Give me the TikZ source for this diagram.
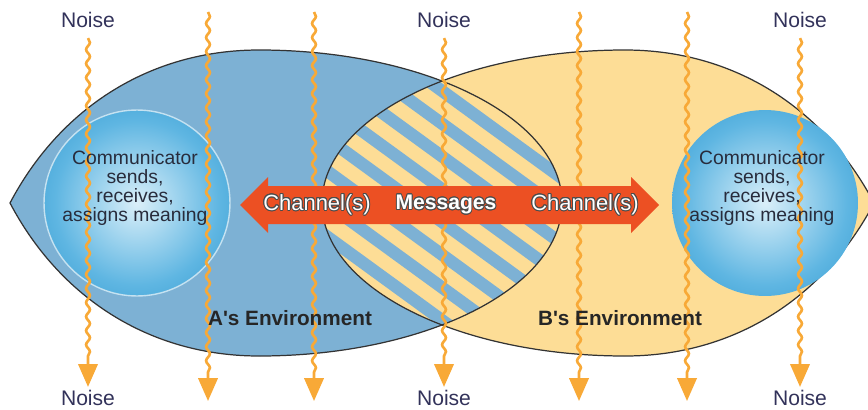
\documentclass[tikz,border=0pt]{standalone}
\usepackage{fontspec}
\usepackage{contour}
\usepackage{tikz}
\usetikzlibrary{decorations.pathmorphing,arrows.meta}
\newfontfamily\diagfont{Liberation Sans}
\contourlength{0.5pt}
\contournumber{16}
\definecolor{envblue}{RGB}{125,177,212}
\definecolor{envyellow}{RGB}{253,221,150}
\definecolor{noiseorange}{RGB}{248,169,55}
\definecolor{noiseink}{RGB}{50,50,90}
\definecolor{chanred}{RGB}{236,80,35}
\definecolor{commdark}{RGB}{25,138,198}
\definecolor{commmid}{RGB}{95,182,226}
\definecolor{commlight}{RGB}{218,239,249}
\definecolor{commink}{RGB}{40,44,60}
\pgfdeclareradialshading{commball}{\pgfpoint{0bp}{0bp}}{color(0bp)=(commlight); color(22bp)=(commmid); color(44bp)=(commdark); color(50bp)=(commdark)}
\tikzset{
	envline/.style={draw=black!80, line width=0.7pt}, % outline of both environments
	stripe/.style={draw=envblue, line width=7pt}, % blue bands in the shared part
	commball/.style={circle, minimum size=3.72cm, inner sep=0pt, shading=commball}, % communicator
	noise/.style={draw=noiseorange, line width=1.5pt, decorate,
		decoration={snake, amplitude=1.1pt, segment length=8pt, post length=14pt},
		-{Triangle[width=11pt,length=13pt]}}, % wavy noise line
	noiselabel/.style={font={\diagfont\fontsize{12pt}{12pt}\selectfont}, text=noiseink, inner sep=0.5pt},
	commtext/.style={font={\diagfont\fontsize{11pt}{11pt}\selectfont}, text=commink, align=center},
	chantext/.style={font={\diagfont\fontsize{12.5pt}{12.5pt}\selectfont}, text=white},
	msgtext/.style={font={\diagfont\bfseries\fontsize{12pt}{12pt}\selectfont}, text=white},
	envlabel/.style={font={\diagfont\bfseries\fontsize{11.8pt}{11.8pt}\selectfont}, text=black!85},
}
\def\envApath{(10,203) .. controls (60,108) and (150,50) .. (259,50) arc[start angle=-90, end angle=90, x radius=303, y radius=153] .. controls (150,356) and (60,298) .. (10,203) -- cycle}
\def\envBpath{(874,203) .. controls (824,108) and (734,50) .. (625,50) arc[start angle=-90, end angle=-270, x radius=303, y radius=153] .. controls (734,356) and (824,298) .. (874,203) -- cycle}
\begin{document}
\begin{tikzpicture}[x=0.02cm,y=-0.02cm]
	\useasboundingbox (0,0) rectangle (868,409);
	% the two environments
	\fill[envblue] \envApath;
	\fill[envyellow] \envBpath;
	\begin{scope}
		\clip \envApath;
		\clip \envBpath;
		\fill[envyellow] (300,60) rectangle (600,340);
		\foreach \k in {-10,...,3}
			\draw[stripe] ({596+45*\k-206},53) -- ({596+45*\k+206},353);
	\end{scope}
	\draw[envline] \envApath;
	\draw[envline] \envBpath;
	
	% communicators
	\node[commball, draw=white!75!commdark, line width=0.8pt] (ballA) at (137,203) {};
	\node[commball] (ballB) at (765,203) {};
	
	% noise
	\node[noiselabel, outer sep=5.4pt] (ntopA) at (88,20) {Noise};
	\node[noiselabel, outer sep=5.4pt] (ntopM) at (444,20) {Noise};
	\node[noiselabel, outer sep=5.4pt] (ntopB) at (800,20) {Noise};
	\node[noiselabel, outer sep=1.4pt] (nbotA) at (88,398) {Noise};
	\node[noiselabel, outer sep=1.4pt] (nbotM) at (444,398) {Noise};
	\node[noiselabel, outer sep=1.4pt] (nbotB) at (800,398) {Noise};
	\coordinate (w1t) at (208,12);
	\coordinate (w1b) at (208,401);
	\coordinate (w2t) at (314,12);
	\coordinate (w2b) at (314,401);
	\coordinate (w3t) at (579,12);
	\coordinate (w3b) at (579,401);
	\coordinate (w4t) at (687,12);
	\coordinate (w4b) at (687,401);
	\draw[noise] (ntopA) -- (nbotA);
	\draw[noise] (ntopM) -- (nbotM);
	\draw[noise] (ntopB) -- (nbotB);
	\draw[noise] (w1t) -- (w1b);
	\draw[noise] (w2t) -- (w2b);
	\draw[noise] (w3t) -- (w3b);
	\draw[noise] (w4t) -- (w4b);
	
	% channel arrow
	\fill[chanred] (240,205) -- (268,177) -- (268,186) -- (631,186) -- (631,177) -- (659,205)
		-- (631,233) -- (631,224) -- (268,224) -- (268,233) -- cycle;
	\node[chantext] (chanA) at (317,205) {\contour{black!70}{Channel(s)}};
	\node[msgtext] (msg) at (446,205) {\contour{black!70}{Messages}};
	\node[chantext] (chanB) at (585,205) {\contour{black!70}{Channel(s)}};
	
	% labels
	\node[commtext] (commA) at (135,188) {Communicator\\sends,\\receives,\\assigns meaning};
	\node[commtext] (commB) at (762,188) {Communicator\\sends,\\receives,\\assigns meaning};
	\node[envlabel] (envA) at (290,318) {A's Environment};
	\node[envlabel] (envB) at (620,318) {B's Environment};
\end{tikzpicture}
\end{document}
